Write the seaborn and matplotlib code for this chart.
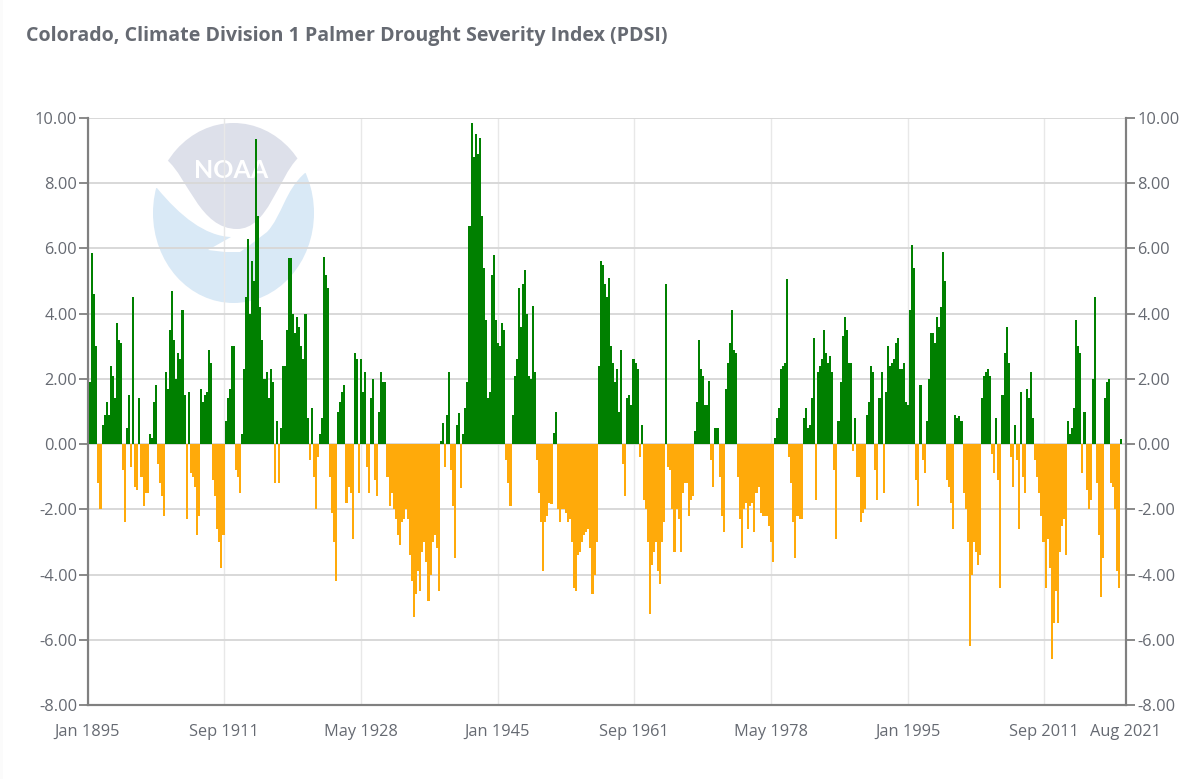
import numpy as np
import pandas as pd
import matplotlib
matplotlib.use("Agg")
import matplotlib.pyplot as plt
from matplotlib.patches import Ellipse, PathPatch, Rectangle
from matplotlib.path import Path
import seaborn as sns

# quarterly PDSI, four values per year
pdsi_1895_1909 = [
    1.6, 1.9, 5.85, 4.6, 3.0, -1.2, -2.0, 0.6, 0.9, 1.3, 0.9, 2.4, 2.1, 1.4, 3.7, 3.2,
    3.1, -0.8, -2.4, 0.5, 1.5, -0.7, 4.5, -1.3, -1.4, 1.4, -1.0, -1.9, -1.5, -1.5, 0.3, 0.2,
    1.3, 1.8, -0.6, -1.2, -1.6, -2.2, 2.2, 1.7, 3.5, 4.7, 3.2, 2.0, 2.8, 2.6, 4.1, 1.5,
    -2.3, 1.6, -0.9, -1.0, -1.3, -2.8, -2.2, 1.7, 1.3, 1.5, 1.6, 2.9,
]
pdsi_1910_1924 = [
    2.5, -1.1, -1.6, -2.6, -3.0, -3.8, -2.8, 0.7, 1.4, 1.7, 3.0, 3.0, -0.8, -1.0, -1.5, 0.3,
    2.3, 4.5, 6.3, 4.0, 5.6, 5.0, 9.35, 7.0, 4.2, 3.2, 2.0, 2.2, 1.4, 2.3, 1.9, -1.2,
    0.7, -1.2, 0.5, 2.4, 2.4, 3.5, 5.7, 5.7, 4.0, 3.4, 3.9, 3.6, 3.0, 2.6, 4.0, 0.8,
    -0.5, 1.1, -1.0, -2.0, -0.4, 0.3, 0.8, 5.75, 5.2, 4.8, -1.0, -2.1,
]
pdsi_1925_1939 = [
    -3.0, -4.2, 1.0, 1.3, 1.6, 1.8, -1.8, -1.3, -1.5, -2.9, 2.8, 2.6, -1.5, 2.6, 1.6, 2.2,
    -0.7, -1.5, 1.4, 2.0, -1.1, -1.6, 1.0, 2.2, 1.9, 1.9, -1.0, -1.9, -1.5, -2.0, -2.3, -2.8,
    -3.1, -2.4, -2.3, -2.0, -2.3, -3.4, -4.2, -5.3, -4.6, -3.9, -4.5, -3.3, -3.0, -3.6, -4.8, -4.0,
    -3.0, -2.8, -3.2, -4.5, 0.1, 0.65, -0.7, 0.9, 2.2, -0.8, -1.9, -3.5,
]
pdsi_1940_1954 = [
    0.6, 0.95, -1.35, 0.3, 1.1, 1.9, 6.7, 9.85, 8.8, 9.5, 8.9, 9.4, 7.0, 5.4, 3.8, 1.4,
    1.6, 5.2, 5.8, 3.8, 3.1, 3.0, 3.7, 3.5, -0.5, -1.2, -1.9, 0.9, 2.1, 2.6, 4.8, 3.6,
    4.9, 5.35, 4.0, 2.1, 2.0, 4.25, 2.2, -0.5, -1.5, -2.4, -3.9, -2.4, -2.2, -1.8, -1.85, 0.35,
    1.0, -2.0, -2.4, -2.0, -2.0, -2.1, -2.4, -2.3, -3.0, -4.4, -4.5, -3.4,
]
pdsi_1955_1969 = [
    -3.3, -3.0, -2.8, -2.7, -2.6, -3.2, -4.6, -4.0, -3.0, 2.4, 5.6, 5.5, 4.9, 4.5, 5.1, 3.0,
    2.5, 1.9, 2.3, 1.0, 2.9, -0.6, -1.6, 1.4, 1.5, 1.2, 2.6, 2.5, 2.3, -0.4, 0.6, -1.7,
    -2.0, -3.0, -5.2, -3.7, -3.3, -3.0, -3.9, -4.3, -3.0, -2.4, 4.9, -0.7, -0.8, -2.0, -3.3, -2.0,
    -2.3, -3.3, -1.5, -1.2, -1.2, -2.2, -1.7, -1.6, 0.4, 1.3, 3.2, 2.3,
]
pdsi_1970_1984 = [
    2.1, 1.2, 1.2, 1.95, -0.5, -1.3, 0.5, 0.5, -1.0, -2.2, -2.7, 1.7, 2.5, 3.1, 4.1, 2.9,
    2.8, -1.0, -2.3, -3.2, -2.0, -1.8, -2.6, -1.9, -1.8, -2.7, -1.5, -1.3, -2.1, -2.2, -2.2, -2.2,
    -2.5, -3.0, -3.6, 0.2, 0.8, 1.1, 2.3, 2.4, 2.5, 5.05, -0.4, -1.2, -2.4, -3.5, -2.2, -2.3,
    -2.3, 0.8, 1.1, 0.5, 0.6, 1.4, 3.25, -1.7, 2.2, 2.4, 2.6, 3.5,
]
pdsi_1985_1999 = [
    2.8, 2.5, 2.7, 2.2, -0.8, -2.9, 0.7, 1.9, 3.3, 3.9, 3.5, 2.5, 2.5, -0.2, 0.8, -1.0,
    -1.0, -2.4, -2.1, -2.0, 0.9, 1.3, 2.4, 2.2, -0.8, -1.7, 1.4, 2.2, -1.5, 1.6, 3.0, 2.4,
    2.5, 2.6, 3.1, 3.25, 2.3, 2.3, 2.5, 1.3, 1.2, 4.1, 6.1, 5.4, -1.1, -1.9, 1.8, -0.5,
    -0.9, 0.7, 2.0, 3.4, 3.4, 3.1, 3.9, 3.6, 4.2, 5.9, 5.0, -1.1,
]
pdsi_2000_2021 = [
    -1.3, -1.8, -2.6, 0.9, 0.8, 0.85, 0.7, -1.5, -2.0, -3.0, -6.2, -4.0, -3.0, -3.3, -3.7, -3.4,
    1.4, 2.1, 2.2, 2.3, 2.1, -0.3, -0.9, 0.8, -1.1, -4.4, 1.5, 2.8, 3.6, 2.5, -0.4, -1.3,
    0.6, -0.5, -2.6, 1.6, -1.0, -1.5, 1.7, 1.4, 2.2, 0.8, -0.5, -1.0, -1.5, -2.2, -3.0, -4.4,
    -2.9, -3.8, -6.6, -5.5, -4.5, -5.5, -3.3, -2.5, -2.3, -3.4, 0.7, 0.3, 0.5, 1.1, 3.8, 3.0,
    2.8, -0.9, 1.0, -1.4, -2.0, -1.7, 2.0, 4.5, -1.2, -2.8, -4.7, -3.5, 1.4, 1.9, 2.0, -1.2,
    -1.3, -2.0, -3.9, -4.4, 0.15,
]

tick_months = [0, 200, 400, 600, 800, 1000, 1200, 1400, 1519]
tick_labels = ["Jan 1895", "Sep 1911", "May 1928", "Jan 1945", "Sep 1961",
               "May 1978", "Jan 1995", "Sep 2011", "Aug 2021"]
y_ticks = [10, 8, 6, 4, 2, 0, -2, -4, -6, -8]

pdsi = (pdsi_1895_1909 + pdsi_1910_1924 + pdsi_1925_1939 + pdsi_1940_1954
        + pdsi_1955_1969 + pdsi_1970_1984 + pdsi_1985_1999 + pdsi_2000_2021)

df = pd.DataFrame({"pdsi": pdsi})
df["month"] = df.index * 3 + 1
df["sign"] = np.where(df["pdsi"] >= 0, "wet", "dry")

W, H = 1204, 779
GREY = "#666a72"

sns.set_theme(style="white")
plt.rcParams["font.family"] = ["Open Sans", "DejaVu Sans"]

fig = plt.figure(figsize=(W / 100, H / 100), dpi=100, facecolor="white")

# watermark, in pixel coordinates behind the chart
bg = fig.add_axes([0, 0, 1, 1], zorder=0)
bg.set_xlim(0, W)
bg.set_ylim(H, 0)
bg.axis("off")
bg.add_patch(Rectangle((0, 0), 3, H, fc="#fbfbfb", ec="none"))
bg.add_patch(Ellipse((233.5, 213), 161, 180, fc="#d9e9f6", ec="none"))
white_top = Path(
    [(145, 110), (325, 110), (325, 172), (305, 173),
     (285, 190), (282, 216), (267, 232),
     (250, 245), (240, 252), (225, 252), (208, 250), (231, 237),
     (205, 236), (180, 216), (157, 188),
     (145, 188), (145, 110)],
    [Path.MOVETO, Path.LINETO, Path.LINETO, Path.LINETO,
     Path.CURVE4, Path.CURVE4, Path.CURVE4,
     Path.LINETO, Path.LINETO, Path.LINETO, Path.LINETO, Path.LINETO,
     Path.CURVE4, Path.CURVE4, Path.CURVE4,
     Path.LINETO, Path.CLOSEPOLY])
bg.add_patch(PathPatch(white_top, fc="white", ec="none"))
grey_cap = Ellipse((233.5, 213), 161, 180, fc="#dde0ea", ec="none")
bg.add_patch(grey_cap)
grey_clip = Path(
    [(167, 160), (188, 178), (200, 229), (237, 229), (268, 229), (278, 178), (298, 158),
     (298, 110), (167, 110), (167, 160)],
    [Path.MOVETO, Path.CURVE4, Path.CURVE4, Path.CURVE4, Path.CURVE4, Path.CURVE4, Path.CURVE4,
     Path.LINETO, Path.LINETO, Path.CLOSEPOLY])
grey_cap.set_clip_path(PathPatch(grey_clip, transform=bg.transData))
bg.text(231, 170, "NOAA", color="white", fontsize=18, fontweight="bold",
        family=["Lato", "DejaVu Sans"], ha="center", va="center")

ax = fig.add_axes([87.5 / W, 1 - 705 / H, 1038 / W, 587 / H], zorder=1)
ax.patch.set_alpha(0)

sns.barplot(data=df, x="month", y="pdsi", hue="sign", hue_order=["wet", "dry"],
            palette={"wet": "#008000", "dry": "#ffaa0a"}, native_scale=True, dodge=False,
            width=1, saturation=1, errorbar=None, legend=False, linewidth=0, ax=ax, zorder=3)

ax.set_xlim(0, 1519)
ax.set_ylim(-8, 10)
ax.set_xlabel("")
ax.set_ylabel("")
ax.set_yticks(y_ticks)
ax.set_yticklabels([f"{v:.2f}" for v in y_ticks])
ax.set_xticks(tick_months)
ax.set_xticklabels(tick_labels)
ax.grid(True, axis="y", color="#d8d8d8", lw=1.4, zorder=0)
ax.grid(True, axis="x", color="#e8e8e8", lw=1, zorder=0)
ax.set_axisbelow(True)
ax.tick_params(axis="both", length=6.5, width=1.3, color="#808080", labelcolor=GREY, labelsize=11.8, pad=1)
ax.tick_params(axis="x", pad=7)

right = ax.twinx()
right.patch.set_alpha(0)
right.set_ylim(-8, 10)
right.set_yticks(y_ticks)
right.set_yticklabels([f"{v:.2f}" for v in y_ticks])
right.grid(False)
right.tick_params(axis="y", length=6.5, width=1.3, color="#808080", labelcolor=GREY, labelsize=11.8, pad=2)

for a in (ax, right):
    a.spines["top"].set_visible(False)
    for name in ("left", "right", "bottom"):
        a.spines[name].set_color("#808080")
        a.spines[name].set_linewidth(1.5)

fig.text(26 / W, 1 - 36 / H, "Colorado, Climate Division 1 Palmer Drought Severity Index (PDSI)",
         color=GREY, fontsize=14.1, fontweight="bold", va="center", ha="left")

fig.savefig("out.png", dpi=100)
